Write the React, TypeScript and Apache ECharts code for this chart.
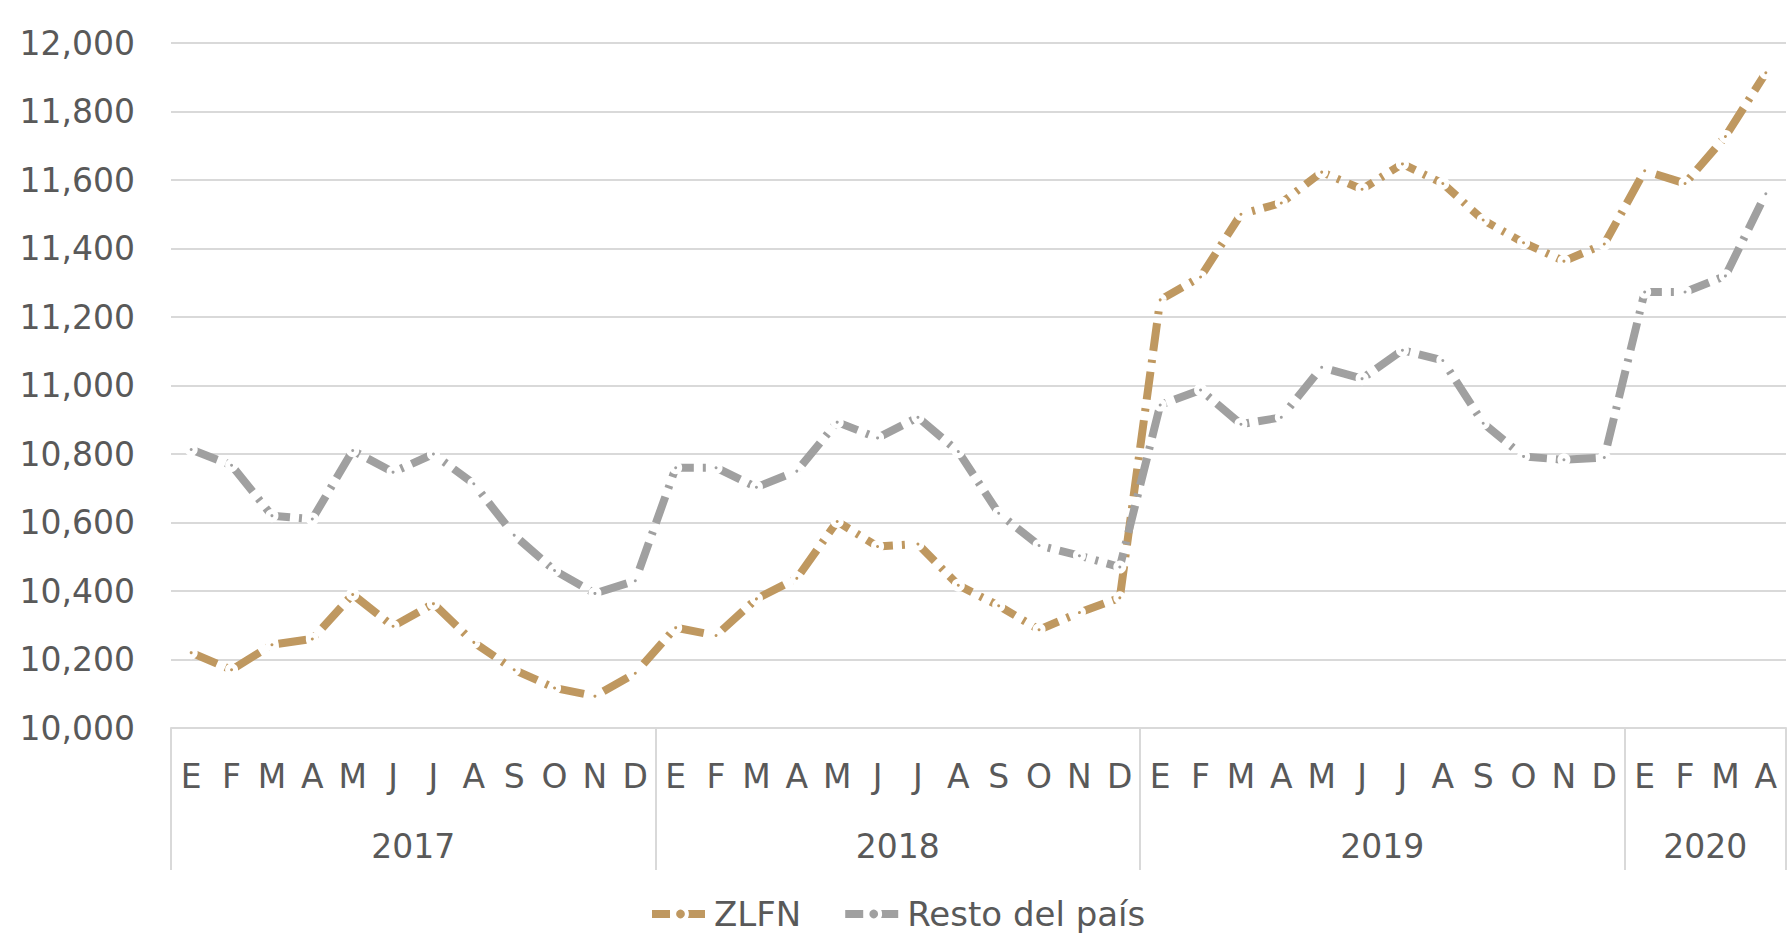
import React, { useEffect, useRef } from "react";
import * as echarts from "echarts";

const monthLetters = ["E", "F", "M", "A", "M", "J", "J", "A", "S", "O", "N", "D"];
const years = ["2017", "2018", "2019", "2020"];
const monthsPerYear = [12, 12, 12, 4];

const zlfn = [
  10220, 10170, 10243, 10260, 10390, 10297, 10363, 10250, 10170, 10117, 10093, 10160,
  10293, 10270, 10377, 10437, 10603, 10530, 10537, 10417, 10357, 10287, 10337, 10380,
  11250, 11317, 11500, 11533, 11623, 11573, 11647, 11590, 11483, 11417, 11363, 11413,
  11627, 11590, 11727, 11913,
];
const resto = [
  10813, 10767, 10620, 10610, 10810, 10747, 10800, 10713, 10563, 10460, 10393, 10430,
  10760, 10760, 10703, 10750, 10893, 10847, 10907, 10807, 10627, 10533, 10503, 10470,
  10943, 10987, 10887, 10907, 11053, 11020, 11103, 11073, 10890, 10793, 10783, 10790,
  11273, 11273, 11320, 11560,
];

const FONT = "DejaVu Sans";
const TEXT = "#595959";
const GRID = "#D9D9D9";
const GOLD = "#BF9860";
const GREY = "#A0A0A0";

export default function App() {
  const ref = useRef<HTMLDivElement>(null);
  useEffect(() => {
    document.body.style.margin = "0";
    if (!ref.current) return;
    const chart = echarts.init(ref.current, undefined, { renderer: "svg" });

    const categories: string[] = [];
    monthsPerYear.forEach((n) => {
      for (let i = 0; i < n; i++) categories.push(monthLetters[i]);
    });
    const total = categories.length;
    const boundaries: number[] = [0];
    const centers: number[] = [];
    let acc = 0;
    monthsPerYear.forEach((n) => {
      centers.push(acc + n / 2);
      acc += n;
      boundaries.push(acc);
    });

    const mkSeries = (name: string, data: number[], color: string) => ({
      name,
      type: "line",
      data,
      xAxisIndex: 0,
      yAxisIndex: 0,
      symbol: "circle",
      symbolSize: 8,
      itemStyle: { color, borderColor: "#ffffff", borderWidth: 5 },
      lineStyle: { color, width: 8, type: [28, 9, 3, 9], cap: "butt" },
    });

    chart.setOption({
      animation: false,
      backgroundColor: "#ffffff",
      textStyle: { fontFamily: FONT },
      grid: {
        left: 171,
        right: 3,
        top: 43,
        bottom: 206,
        containLabel: false,
        outerBoundsMode: "none",
      },
      legend: {
        top: 892,
        left: 643,
        itemWidth: 57,
        itemHeight: 16,
        itemGap: 40,
        lineStyle: { width: 8, type: [18, 7, 3, 7] },
        itemStyle: { borderWidth: 4 },
        textStyle: { fontFamily: FONT, fontSize: 34, color: TEXT },
        data: ["ZLFN", "Resto del país"],
      },
      xAxis: [
        {
          type: "category",
          data: categories,
          boundaryGap: true,
          axisLine: { show: true, lineStyle: { color: GRID, width: 2 } },
          axisTick: { show: false },
          axisLabel: {
            interval: 0,
            fontFamily: FONT,
            fontSize: 33,
            color: TEXT,
            margin: 32,
          },
          splitLine: { show: false },
        },
        {
          type: "value",
          position: "bottom",
          min: 0,
          max: total,
          axisLine: { show: false },
          splitLine: { show: false },
          axisTick: {
            show: true,
            length: 142,
            customValues: boundaries,
            lineStyle: { color: GRID, width: 2 },
          },
          axisLabel: {
            show: true,
            customValues: centers,
            formatter: (v: number) => {
              const i = centers.indexOf(v);
              return i >= 0 ? years[i] : "";
            },
            fontFamily: FONT,
            fontSize: 33,
            color: TEXT,
            margin: 102,
          },
        },
      ],
      yAxis: {
        type: "value",
        min: 10000,
        max: 12000,
        interval: 200,
        axisLine: { show: false },
        axisTick: { show: false },
        axisLabel: {
          fontFamily: FONT,
          fontSize: 33,
          color: TEXT,
          margin: 36,
          formatter: (v: number) => v.toLocaleString("en-US"),
        },
        splitLine: { lineStyle: { color: GRID, width: 2 } },
      },
      series: [mkSeries("ZLFN", zlfn, GOLD), mkSeries("Resto del país", resto, GREY)],
    });
    return () => chart.dispose();
  }, []);
  return <div ref={ref} style={{ width: 1789, height: 934 }} />;
}
